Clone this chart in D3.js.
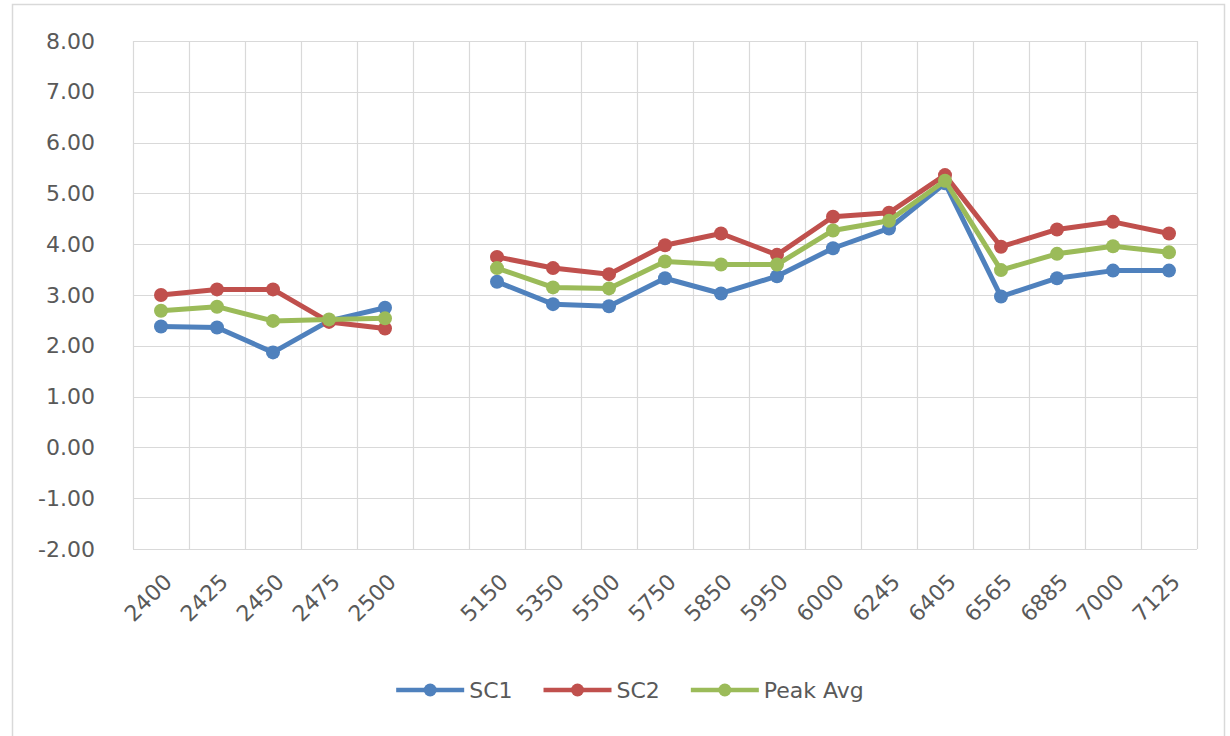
<!DOCTYPE html>
<html>
<head>
<meta charset="utf-8">
<script src="https://cdn.jsdelivr.net/npm/d3@7"></script>
<style>
  html, body { margin: 0; padding: 0; background: #fff; }
  svg { display: block; }
  text { font-family: "DejaVu Sans", sans-serif; fill: #595959; }
</style>
</head>
<body>
<svg id="chart" width="1230" height="736"></svg>
<script>
const categories = ["2400","2425","2450","2475","2500","","5150","5350","5500","5750","5850","5950","6000","6245","6405","6565","6885","7000","7125"];
const sc1 = [2.38, 2.36, 1.87, 2.49, 2.75, null, 3.26, 2.82, 2.78, 3.33, 3.03, 3.37, 3.92, 4.31, 5.20, 2.97, 3.33, 3.48, 3.48];
const sc2 = [3.00, 3.11, 3.11, 2.47, 2.34, null, 3.75, 3.53, 3.41, 3.98, 4.21, 3.79, 4.54, 4.62, 5.36, 3.95, 4.29, 4.44, 4.21];
const peakAvg = [2.69, 2.77, 2.49, 2.52, 2.54, null, 3.53, 3.15, 3.13, 3.66, 3.60, 3.60, 4.27, 4.46, 5.25, 3.49, 3.81, 3.96, 3.84];
const yTicks = [-2, -1, 0, 1, 2, 3, 4, 5, 6, 7, 8];
const seriesNames = ["SC1", "SC2", "Peak Avg"];
const seriesColors = ["#4F81BD", "#C0504D", "#9BBB59"];

const series = [sc1, sc2, peakAvg].map((vals, i) => ({
  name: seriesNames[i], color: seriesColors[i],
  points: vals.map((v, j) => ({ i: j, v }))
}));

const svg = d3.select("#chart");
const pLeft = 133, pRight = 1197, pTop = 41, pBottom = 549;

// outer chart border
svg.append("rect").attr("x", 12.5).attr("y", 4.5).attr("width", 1212).attr("height", 760)
  .attr("fill", "#fff").attr("stroke", "#d9d9d9").attr("stroke-width", 1.5);

const idx = d3.range(categories.length);
const x = d3.scaleBand().domain(idx).range([pLeft, pRight]).paddingInner(0).paddingOuter(0);
const y = d3.scaleLinear().domain([-2, 8]).range([pBottom, pTop]);

// horizontal gridlines
svg.append("g").selectAll("line").data(yTicks).join("line")
  .attr("x1", pLeft).attr("x2", pRight)
  .attr("y1", d => Math.round(y(d)) + 0.5).attr("y2", d => Math.round(y(d)) + 0.5)
  .attr("stroke", "#d9d9d9").attr("stroke-width", 1.2);

// vertical gridlines at category boundaries
const bounds = idx.map(i => x(i)).concat([pRight]);
svg.append("g").selectAll("line").data(bounds).join("line")
  .attr("x1", d => Math.round(d) + 0.5).attr("x2", d => Math.round(d) + 0.5)
  .attr("y1", pTop).attr("y2", pBottom)
  .attr("stroke", "#d9d9d9").attr("stroke-width", 1.2);

// y axis labels
const yAxis = d3.axisLeft(y).tickValues(yTicks).tickFormat(d => d.toFixed(2)).tickSize(0).tickPadding(38);
const gy = svg.append("g").attr("transform", `translate(${pLeft},0)`).call(yAxis);
gy.select(".domain").remove();
gy.selectAll("text").attr("font-size", 22).attr("fill", "#595959")
  .style("font-family", '"DejaVu Sans", sans-serif');

// x axis labels
const xAxis = d3.axisBottom(x).tickFormat(i => categories[i]).tickSize(0).tickPadding(0);
const gx = svg.append("g").attr("transform", `translate(0,${pBottom})`).call(xAxis);
gx.select(".domain").remove();
gx.selectAll("text")
  .attr("font-size", 22).attr("fill", "#595959")
  .style("font-family", '"DejaVu Sans", sans-serif')
  .attr("text-anchor", "end")
  .attr("dy", null).attr("y", 0)
  .attr("transform", "translate(7,29) rotate(-45)")
  .attr("dominant-baseline", "central");

// lines
const line = d3.line().defined(d => d.v !== null)
  .x(d => x(d.i) + x.bandwidth() / 2).y(d => y(d.v));

const gs = svg.append("g").selectAll("g").data(series).join("g");
gs.append("path").attr("d", d => line(d.points))
  .attr("fill", "none").attr("stroke", d => d.color).attr("stroke-width", 5)
  .attr("stroke-linejoin", "round").attr("stroke-linecap", "round");
gs.selectAll("circle").data(d => d.points.filter(p => p.v !== null).map(p => ({ ...p, color: d.color })))
  .join("circle")
  .attr("cx", d => x(d.i) + x.bandwidth() / 2).attr("cy", d => y(d.v))
  .attr("r", 7).attr("fill", d => d.color);

// legend
const legY = 690;
const lg = svg.append("g");
const items = lg.selectAll("g").data(series).join("g");
items.append("line").attr("x1", 0).attr("x2", 68).attr("y1", legY).attr("y2", legY)
  .attr("stroke", d => d.color).attr("stroke-width", 4.5);
items.append("circle").attr("cx", 34).attr("cy", legY).attr("r", 6.5).attr("fill", d => d.color);
items.append("text").attr("x", 73).attr("y", legY).attr("dominant-baseline", "central")
  .attr("font-size", 22).text(d => d.name);
const widths = [];
items.each(function () {
  const w = 73 + d3.select(this).select("text").node().getComputedTextLength();
  widths.push(w);
});
const gap = 31;
const total = d3.sum(widths) + gap * (widths.length - 1);
let startX = 630 - total / 2;
items.attr("transform", (d, i) => {
  const t = `translate(${startX},0)`;
  startX += widths[i] + gap;
  return t;
});
</script>
</body>
</html>
